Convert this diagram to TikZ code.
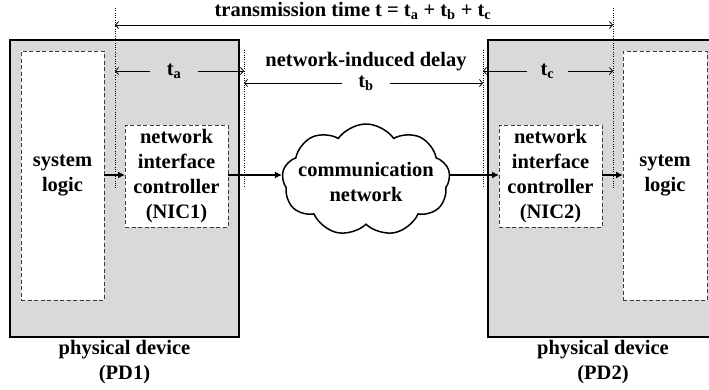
\documentclass[tikz,border=0pt]{standalone}
\usepackage{fontspec}
\setmainfont{Liberation Serif}
\usetikzlibrary{shapes.symbols,arrows.meta}
\definecolor{pdgray}{HTML}{D9D9D9}
\definecolor{dashgray}{HTML}{3C3C3C}
\begin{document}
\begin{tikzpicture}[x=1pt,y=-1pt,
  font=\fontsize{20.5}{25}\selectfont\bfseries,
  >={Straight Barb[length=3pt,width=7pt]},
  pdbox/.style={draw=black,line width=1.5pt,fill=pdgray,inner sep=0pt,outer sep=0pt},
  subbox/.style={draw=dashgray,line width=1pt,dash pattern=on 4pt off 2.5pt,fill=white,
    inner sep=0pt,outer sep=0pt,align=center},
  guide/.style={line width=1pt,dash pattern=on 1pt off 1.3pt},
  dim/.style={line width=0.8pt},
  flow/.style={line width=1.5pt,-{Latex[length=7pt,width=7pt]}},
  lbl/.style={inner sep=0pt,align=center}
]
\useasboundingbox (0,0) rectangle (709,389);

% physical devices (the right one runs past the edge)
\begin{scope}
\clip (0,0) rectangle (709,389);
\node[pdbox,minimum width=229pt,minimum height=297pt] (pd1) at (124.5,188.5) {};
\node[pdbox,minimum width=230pt,minimum height=297pt] (pd2) at (603,188.5) {};
\end{scope}

% logic blocks and interface controllers
\node[subbox,minimum width=83pt,minimum height=249pt] (sl1) at (62.5,175.5) {system\\logic};
\node[subbox,minimum width=103pt,minimum height=102pt] (nic1) at (176.5,176) {network\\interface\\controller\\(NIC1)};
\node[subbox,minimum width=103pt,minimum height=102pt] (nic2) at (550.5,176) {network\\interface\\controller\\(NIC2)};
\node[subbox,minimum width=84pt,minimum height=249pt] (sl2) at (665,175.5) {sytem\\logic};

% network cloud
\node[cloud,draw,fill=white,line width=1.5pt,cloud puffs=9,cloud puff arc=110,
  aspect=1.5,minimum width=168pt,minimum height=112pt,inner sep=0pt,align=center]
  (net) at (366,180) {};
\node[lbl] (nettxt) at (366,182) {communication\\network};

% device labels
\node[lbl] (pd1lbl) at ([yshift=-25pt]pd1.south) {physical device\\(PD1)};
\node[lbl] (pd2lbl) at ([yshift=-25pt]pd2.south) {physical device\\(PD2)};

% data path
\draw[flow] (sl1.east |- 0,175) -- (nic1.west |- 0,175);
\draw[flow] (nic1.east |- 0,175) -- (net.west |- 0,175);
\draw[flow] (net.east |- 0,175) -- (nic2.west |- 0,175);
\draw[flow] (nic2.east |- 0,175) -- (sl2.west |- 0,175);

% timing guides
\coordinate (g1t) at (115,8);   \coordinate (g1b) at (115,188);
\coordinate (g2t) at (244,50);  \coordinate (g2b) at (244,188);
\coordinate (g3t) at (483,50);  \coordinate (g3b) at (483,188);
\coordinate (g4t) at (613,8);   \coordinate (g4b) at (613,188);
\draw[guide] (g1t) -- (g1b);
\draw[guide] (g2t) -- (g2b);
\draw[guide] (g3t) -- (g3b);
\draw[guide] (g4t) -- (g4b);

% total transmission time
\node[lbl] (ttl) at (353,11) {transmission time t = t\textsubscript{a} + t\textsubscript{b} + t\textsubscript{c}};
\coordinate (tl) at (115,25);
\coordinate (tr) at (613,25);
\draw[dim,<->] (tl) -- (tr);

% t_a
\node[lbl,minimum width=48pt] (ta) at (174,71) {t\textsubscript{a}};
\draw[dim,->] (ta.west) -- (ta.west -| g1t);
\draw[dim,->] (ta.east) -- (ta.east -| g2t);

% t_b
\node[lbl] (nid) at (366,61.5) {network-induced delay};
\node[lbl,minimum width=47pt] (tb) at (366,83) {t\textsubscript{b}};
\draw[dim,->] (tb.west) -- (tb.west -| g2t);
\draw[dim,->] (tb.east) -- (tb.east -| g3t);

% t_c
\node[lbl,minimum width=41pt] (tc) at (547.5,71) {t\textsubscript{c}};
\draw[dim,->] (tc.west) -- (tc.west -| g3t);
\draw[dim,->] (tc.east) -- (tc.east -| g4t);
\end{tikzpicture}
\end{document}
